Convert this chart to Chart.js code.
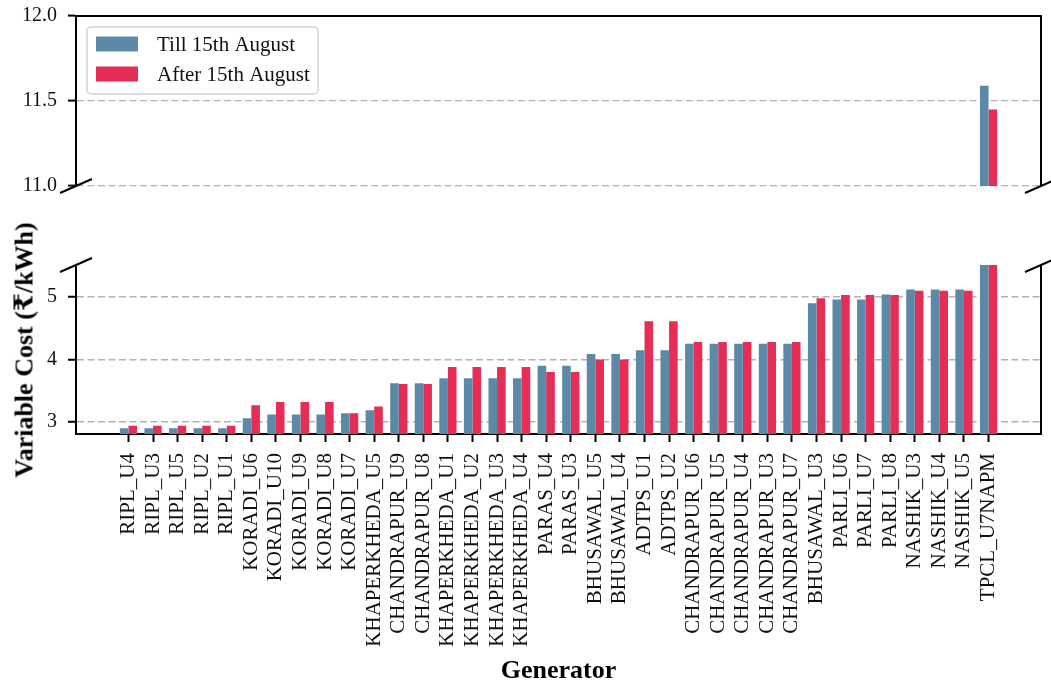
<!DOCTYPE html>
<html>
<head>
<meta charset="utf-8">
<script src="https://cdn.jsdelivr.net/npm/chart.js@4.4.1/dist/chart.umd.min.js"></script>
<style>
html,body{margin:0;padding:0;background:#fff;overflow:hidden;}
#wrap{position:relative;width:1051px;height:684px;overflow:hidden;background:#fff;}
#cTop{position:absolute;left:0;top:0;}
#cBot{position:absolute;left:0;top:240px;}
#ylab{position:absolute;left:24px;top:350px;transform:translate(-50%,-50%) rotate(-90deg);
  font-family:'Liberation Serif','DejaVu Serif',serif;font-weight:bold;font-size:26px;white-space:nowrap;color:#000;}
</style>
</head>
<body>
<div id="wrap">
  <canvas id="cTop" width="1051" height="200"></canvas>
  <canvas id="cBot" width="1051" height="444"></canvas>
  <div id="ylab">Variable Cost (₹/kWh)</div>
</div>
<script>
// ---- data ----
const categories = ['RIPL_U4','RIPL_U3','RIPL_U5','RIPL_U2','RIPL_U1','KORADI_U6','KORADI_U10','KORADI_U9','KORADI_U8','KORADI_U7',
  'KHAPERKHEDA_U5','CHANDRAPUR_U9','CHANDRAPUR_U8','KHAPERKHEDA_U1','KHAPERKHEDA_U2','KHAPERKHEDA_U3','KHAPERKHEDA_U4',
  'PARAS_U4','PARAS_U3','BHUSAWAL_U5','BHUSAWAL_U4','ADTPS_U1','ADTPS_U2','CHANDRAPUR_U6','CHANDRAPUR_U5','CHANDRAPUR_U4',
  'CHANDRAPUR_U3','CHANDRAPUR_U7','BHUSAWAL_U3','PARLI_U6','PARLI_U7','PARLI_U8','NASHIK_U3','NASHIK_U4','NASHIK_U5','TPCL_U7NAPM'];
const tillValues  = [2.90,2.90,2.90,2.90,2.90,3.06,3.12,3.12,3.12,3.14,3.19,3.62,3.62,3.70,3.70,3.70,3.70,3.90,3.90,4.09,4.09,4.15,4.15,4.25,4.25,4.25,4.25,4.25,4.90,4.96,4.96,5.04,5.12,5.12,5.12,11.59];
const afterValues = [2.94,2.94,2.94,2.94,2.94,3.27,3.32,3.32,3.32,3.14,3.25,3.61,3.61,3.88,3.88,3.88,3.88,3.80,3.80,4.00,4.00,4.61,4.61,4.28,4.28,4.28,4.28,4.28,4.98,5.03,5.03,5.03,5.10,5.10,5.10,11.45];
const seriesNames = ['Till 15th August','After 15th August'];
const upperTicks = [11.0, 11.5, 12.0];
const lowerTicks = [3, 4, 5];
const upperRange = [11.0, 12.0];
const lowerRange = [2.81, 5.51];

// ---- style ----
const SERIF = "'Liberation Serif','DejaVu Serif',serif";
const BLUE = '#5d89a8', RED = '#e62d55';
const XMIN = -2.135, XMAX = 37.135;

const pts = arr => arr.map((v, i) => ({x: i, y: v}));

const framePlugin = {
  id: 'frame',
  afterDraw(chart, args, opts) {
    const {ctx, chartArea: {left, right, top, bottom}} = chart;
    ctx.save();
    ctx.strokeStyle = '#000';
    ctx.lineWidth = 2;
    ctx.setLineDash([]);
    ctx.beginPath();
    if (opts.isTop) { ctx.moveTo(left - 1, top); ctx.lineTo(right + 1, top); }
    ctx.moveTo(right, top); ctx.lineTo(right, bottom);
    ctx.stroke();
    const by = opts.isTop ? bottom : top;
    [left, right].forEach(bx => {
      ctx.beginPath(); ctx.moveTo(bx - 16, by + 7); ctx.lineTo(bx + 16, by - 7); ctx.stroke();
    });
    if (opts.isTop) {
      // legend box
      const lx = 87, ly = 27, lw = 231, lh = 67, r = 4;
      ctx.fillStyle = 'rgba(255,255,255,0.85)';
      ctx.strokeStyle = '#d4d4d4';
      ctx.lineWidth = 1.5;
      ctx.beginPath();
      ctx.moveTo(lx + r, ly); ctx.lineTo(lx + lw - r, ly); ctx.arcTo(lx + lw, ly, lx + lw, ly + r, r);
      ctx.lineTo(lx + lw, ly + lh - r); ctx.arcTo(lx + lw, ly + lh, lx + lw - r, ly + lh, r);
      ctx.lineTo(lx + r, ly + lh); ctx.arcTo(lx, ly + lh, lx, ly + lh - r, r);
      ctx.lineTo(lx, ly + r); ctx.arcTo(lx, ly, lx + r, ly, r);
      ctx.closePath(); ctx.fill(); ctx.stroke();
      chart.data.datasets.forEach((ds, i) => {
        const cy = 44 + i * 30;
        ctx.fillStyle = ds.backgroundColor;
        ctx.fillRect(96, cy - 7.5, 42, 15);
        ctx.fillStyle = '#111';
        ctx.font = '21px ' + SERIF;
        ctx.textBaseline = 'middle';
        ctx.textAlign = 'left';
        ctx.fillText(ds.label, 157, cy + 1);
      });
    }
    ctx.restore();
  }
};

function makeChart(canvas, range, yTicks, fmt, isTop) {
  return new Chart(canvas, {
    type: 'bar',
    data: {
      datasets: [
        {label: seriesNames[0], data: pts(tillValues), backgroundColor: BLUE, borderWidth: 0, categoryPercentage: 0.7, barPercentage: 1},
        {label: seriesNames[1], data: pts(afterValues), backgroundColor: RED, borderWidth: 0, categoryPercentage: 0.7, barPercentage: 1}
      ]
    },
    options: {
      responsive: false,
      animation: false,
      devicePixelRatio: 1,
      layout: {padding: {left: 0, right: 10, top: isTop ? 16 : 25, bottom: isTop ? 14 : 0}},
      plugins: {legend: {display: false}, tooltip: {enabled: false}, frame: {isTop: isTop}},
      scales: {
        x: {
          type: 'linear', min: XMIN, max: XMAX, display: !isTop, offset: false,
          afterBuildTicks: s => { s.ticks = categories.map((c, i) => ({value: i})); },
          afterFit: s => { s.height = isTop ? 0 : 250; s.paddingLeft = 0; s.paddingRight = 0; },
          ticks: {autoSkip: false, minRotation: 90, maxRotation: 90, padding: 11, color: '#111',
                  font: {family: SERIF, size: 21}, callback: v => categories[v]},
          grid: {offset: false, drawOnChartArea: false, drawTicks: true, tickLength: 8, tickColor: '#000', tickWidth: 2, tickBorderDash: []},
          border: {display: true, color: '#000', width: 2},
          title: {display: true, text: 'Generator', color: '#000',
                  font: {family: SERIF, size: 26, weight: 'bold', lineHeight: 1}, padding: 0}
        },
        y: {
          min: range[0], max: range[1],
          afterBuildTicks: s => { s.ticks = yTicks.map(v => ({value: v})); },
          afterFit: s => { s.width = 76; s.paddingTop = 0; s.paddingBottom = 0; },
          ticks: {padding: 11, color: '#111', font: {family: SERIF, size: 20}, callback: fmt},
          grid: {color: '#b3b3b3', lineWidth: isTop ? 1.2 : 1.5, drawTicks: true, tickLength: 8, tickColor: '#000', tickWidth: 2, tickBorderDash: []},
          border: {display: true, color: '#000', width: 2, dash: [7, 3.5]}
        }
      }
    },
    plugins: [framePlugin]
  });
}

makeChart(document.getElementById('cTop'), upperRange, upperTicks, v => Number(v).toFixed(1), true);
makeChart(document.getElementById('cBot'), lowerRange, lowerTicks, v => String(v), false);
</script>
</body>
</html>
